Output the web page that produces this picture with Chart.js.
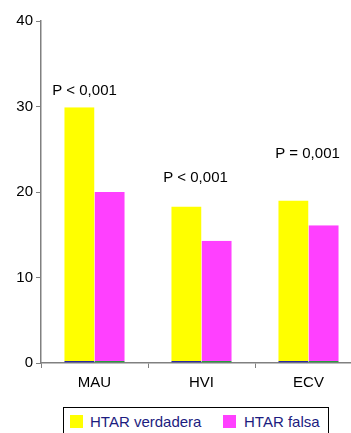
<!DOCTYPE html>
<html>
<head>
<meta charset="utf-8">
<script src="https://cdn.jsdelivr.net/npm/chart.js@4"></script>
<style>
  html, body { margin: 0; padding: 0; background: #fff; overflow: hidden; }
  #wrap { position: relative; width: 351px; height: 433px; overflow: hidden; }
  #box { position: absolute; left: 0; top: 0; width: 362px; height: 400px; }
  #legend {
    position: absolute; left: 63px; top: 407px; width: 266px; height: 36px;
    border: 1px solid #000; box-sizing: border-box;
    font: 15px "Liberation Sans", Arial, sans-serif; color: #1c1c80;
  }
  #legend span { position: absolute; top: 6px; line-height: 16px; }
  #legend i { position: absolute; top: 7px; width: 13px; height: 13px; }
</style>
</head>
<body>
<div id="wrap">
  <div id="box"><canvas id="myChart"></canvas></div>
  <div id="legend">
    <i style="left:6px; background:#ffff00"></i><span style="left:26px">HTAR verdadera</span>
    <i style="left:159px; background:#ff40ff"></i><span style="left:180px">HTAR falsa</span>
  </div>
</div>
<script>
const categories = ['MAU', 'HVI', 'ECV'];
const verdadera = [29.9, 18.3, 19.0];
const falsa = [20.0, 14.3, 16.1];
const yTicks = [0, 10, 20, 30, 40];
const pLabels = ['P < 0,001', 'P < 0,001', 'P = 0,001'];
const pLabelValue = [31.8, 21.6, 24.5];

const pText = {
  id: 'pText',
  afterDatasetsDraw(chart) {
    const { ctx, scales } = chart;
    ctx.save();
    ctx.font = '15px "Liberation Sans", Arial, sans-serif';
    ctx.fillStyle = '#000';
    ctx.textAlign = 'center';
    ctx.textBaseline = 'middle';
    const shift = [-10, -6, -1];
    pLabels.forEach((t, i) => {
      ctx.fillText(t, scales.x.getPixelForValue(i) + shift[i], scales.y.getPixelForValue(pLabelValue[i]));
    });
    ctx.restore();
  }
};

const font = { family: '"Liberation Sans", Arial, sans-serif', size: 15 };

new Chart(document.getElementById('myChart'), {
  type: 'bar',
  data: {
    labels: categories,
    datasets: [
      { label: 'HTAR verdadera', data: verdadera, backgroundColor: '#ffff00',
        borderColor: '#2a2aa0', borderWidth: { top: 0, left: 0, right: 0, bottom: 1.5 }, borderSkipped: false },
      { label: 'HTAR falsa', data: falsa, backgroundColor: '#ff40ff',
        borderColor: '#2a9a40', borderWidth: { top: 0, left: 0, right: 0, bottom: 1.5 }, borderSkipped: false }
    ]
  },
  options: {
    responsive: true,
    maintainAspectRatio: false,
    animation: false,
    layout: { padding: { top: 21, right: 0, left: 0, bottom: 0 } },
    datasets: { bar: { categoryPercentage: 0.565, barPercentage: 1 } },
    plugins: { legend: { display: false }, tooltip: { enabled: false } },
    scales: {
      x: {
        grid: { display: true, offset: true, drawOnChartArea: false, tickLength: 5, color: '#808080' },
        border: { color: '#808080', width: 1.5 },
        ticks: { color: '#000', font, padding: 6 },
        afterFit: s => { s.height = 37; }
      },
      y: {
        min: 0, max: 40,
        afterBuildTicks: s => { s.ticks = yTicks.map(v => ({ value: v })); },
        grid: { drawOnChartArea: false, tickLength: 5, color: '#808080' },
        border: { color: '#808080', width: 1.5 },
        ticks: { color: '#000', font, padding: 3 },
        afterFit: s => { s.width = 41; }
      }
    }
  },
  plugins: [pText]
});
</script>
</body>
</html>
